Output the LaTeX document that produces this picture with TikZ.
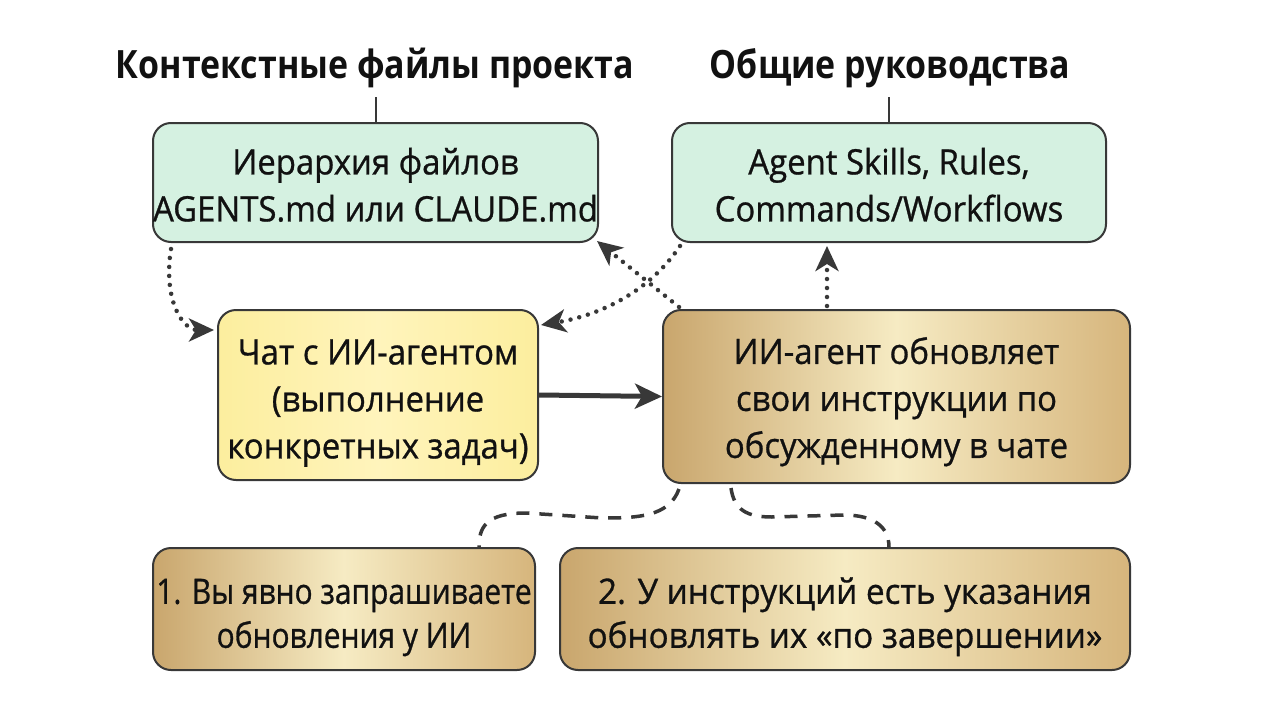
\documentclass[tikz,border=0pt]{standalone}
\usepackage{fontspec}
\setmainfont{Open Sans}[FakeStretch=0.94,FakeBold=0.8]
\newfontfamily\efont{Open Sans}[FakeStretch=0.855,FakeBold=0.8]
\newfontfamily\ffont{Open Sans}[FakeStretch=0.95,FakeBold=0.8]
\newfontfamily\titlefont{Open Sans}[FakeStretch=0.87,BoldFont={* Bold}]
\usetikzlibrary{arrows.meta,calc}
\definecolor{linec}{HTML}{383838}
\definecolor{greenfill}{HTML}{D5F1E1}
\definecolor{yelA}{HTML}{FCEE9E}
\definecolor{yelB}{HTML}{FFF4BC}
\definecolor{goldA}{HTML}{C9A66D}
\definecolor{goldB}{HTML}{F6EBC3}
\definecolor{goldC}{HTML}{D6B57C}
\definecolor{txt}{HTML}{111111}
\newcommand\lowtext[2]{\raisebox{-#1}[\height][\depth]{\begin{tabular}{@{}c@{}}#2\end{tabular}}}
\tikzset{
  box/.style={draw=linec, line width=2pt, rounded corners=18pt, align=center,
    inner sep=0pt, text=txt, font=\fontsize{35}{47}\selectfont},
  greenbox/.style={box, fill=greenfill},
  yellowbox/.style={box, left color=yelA, right color=yelA, middle color=yelB},
  goldbox/.style={box, left color=goldA, right color=goldC, middle color=goldB},
  title/.style={inner sep=2pt, text=txt, font=\titlefont\bfseries\fontsize{39}{44}\selectfont},
  dotline/.style={draw=linec, line width=4.5pt, line cap=round, dash pattern=on 0pt off 9pt},
  dashline/.style={draw=linec, line width=3.5pt, dash pattern=on 13pt off 10pt},
  tip/.style={-{Stealth[length=25pt,width=23pt,inset=7pt]}},
}
\begin{document}
\begin{tikzpicture}[x=1pt,y=-1pt]
\useasboundingbox[fill=white] (0,0) rectangle (1280,720);

\node[title] (T1) at (375,68) {Контекстные файлы проекта};
\node[title] (T2) at (890,68) {Общие руководства};

\node[greenbox, minimum width=445pt, minimum height=119pt] (A) at (375.5,182.5)
  {\lowtext{6pt}{Иерархия файлов\\AGENTS.md или CLAUDE.md}};
\node[greenbox, minimum width=434pt, minimum height=119pt] (B) at (889,182.5)
  {\lowtext{6pt}{Agent Skills, Rules,\\Commands/Workflows}};
\node[yellowbox, minimum width=320pt, minimum height=170pt] (C) at (378,395)
  {\lowtext{7pt}{Чат с ИИ-агентом\\(выполнение\\конкретных задач)}};
\node[goldbox, minimum width=467pt, minimum height=173pt] (D) at (896.5,396.5)
  {\lowtext{5pt}{ИИ-агент обновляет\\свои инструкции по\\обсужденному в чате}};
\node[goldbox, minimum width=382pt, minimum height=122pt, font=\efont\fontsize{35}{44}\selectfont] (E) at (344,609)
  {\lowtext{8pt}{1. Вы явно запрашиваете\\обновления у ИИ}};
\node[goldbox, minimum width=570pt, minimum height=122pt, font=\ffont\fontsize{35}{44}\selectfont] (F) at (845,609)
  {\lowtext{8pt}{2. У инструкций есть указания\\обновлять их «по завершении»}};

% title lines
\draw[linec, line width=2pt] (A.north |- 0,97) -- (A.north);
\draw[linec, line width=2pt] (B.north |- 0,97) -- (B.north);

% dotted connectors
\draw[dotline, tip] ($(A.south west)+(19,6)$) .. controls +(-8,50) and +(-32,0) .. ($(C.north west)+(-3,21)$);
\draw[dotline, tip] ($(B.south west)+(9,3)$) .. controls +(-30,45) and +(60,-10) .. ($(C.north east)+(2,16)$);
\draw[dotline, tip] ($(D.north west)+(17,-2)$) -- ($(A.south east)+(-2,-2)$);
\draw[dotline, tip] ($(D.north west)+(165,-3)$) -- ($(B.south west)+(156,3)$);

% solid arrow
\draw[linec, line width=5pt, -{Stealth[length=27pt,width=25pt,inset=7pt]}] (C.east) -- (D.west);

% dashed connectors
\draw[dashline] ($(D.south west)+(17,5)$) .. controls +(-10,28) and +(35,0) .. ($(D.south west)+(-60,34)$)
  -- ($(E.north east)+(-10,-34)$) .. controls +(-40,0) and +(0,-20) .. ($(E.north east)+(-57,0)$);
\draw[dashline] ($(D.south west)+(69,4)$) .. controls +(3,22) and +(-25,0) .. ($(D.south west)+(110,33)$)
  -- ($(F.north west)+(285,-32)$) .. controls +(30,0) and +(0,-20) .. ($(F.north west)+(330,0)$);
\end{tikzpicture}
\end{document}
